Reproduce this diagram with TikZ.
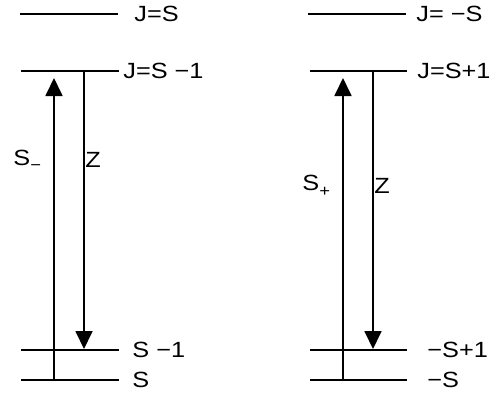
\documentclass[tikz,border=0pt]{standalone}
\usepackage{fontspec}
\setmainfont{Liberation Sans}[FakeStretch=1.15]
\usetikzlibrary{arrows.meta}

\tikzset{
  level/.style={line width=0.9pt},
  trans/.style={line width=0.9pt, -{Triangle[width=8.5pt,length=9pt]}},
  lbl/.style={anchor=west, inner sep=0pt, font=\fontsize{11}{13}\selectfont},
}

\begin{document}
\begin{tikzpicture}[x=0.5pt,y=-0.5pt]
        \useasboundingbox (0,0) rectangle (499,398);

        % --- 1. Left ladder: levels ---
        \coordinate (la1) at (20,14);   \coordinate (la2) at (118,14);
        \coordinate (lb1) at (21,71);   \coordinate (lb2) at (119,71);
        \coordinate (lc1) at (21,350);  \coordinate (lc2) at (119,350);
        \coordinate (ld1) at (21,380);  \coordinate (ld2) at (119,380);
        \draw[level] (la1) -- (la2);
        \draw[level] (lb1) -- (lb2);
        \draw[level] (lc1) -- (lc2);
        \draw[level] (ld1) -- (ld2);
        \node[lbl] (lJS)  at (134,14)  {J=S};
        \node[lbl] (lJS1) at (123,71)  {J=S −1};
        \node[lbl] (lS1)  at (132,350) {S −1};
        \node[lbl] (lS)   at (132,380) {S};

        % --- 2. Left ladder: transitions ---
        \coordinate (lup0) at (54,380);  \coordinate (lup1) at (54,78);
        \coordinate (ldn0) at (84,71);   \coordinate (ldn1) at (84,349);
        \draw[trans] (lup0) -- (lup1);
        \draw[trans] (ldn0) -- (ldn1);
        \node[lbl] (lsm) at (13,160) {S\raisebox{-0.45ex}{\fontsize{8}{9}\selectfont −}};
        \node[lbl] (lz)  at (85,160) {Z};

        % --- 3. Right ladder: levels ---
        \coordinate (ra1) at (308,14);  \coordinate (ra2) at (406,14);
        \coordinate (rb1) at (310,71);  \coordinate (rb2) at (407,71);
        \coordinate (rc1) at (310,350); \coordinate (rc2) at (407,350);
        \coordinate (rd1) at (310,380); \coordinate (rd2) at (407,380);
        \draw[level] (ra1) -- (ra2);
        \draw[level] (rb1) -- (rb2);
        \draw[level] (rc1) -- (rc2);
        \draw[level] (rd1) -- (rd2);
        \node[lbl] (rJS)  at (416,14)  {J= −S};
        \node[lbl] (rJS1) at (417,71)  {J=S+1};
        \node[lbl] (rS1)  at (427,350) {−S+1};
        \node[lbl] (rS)   at (427,380) {−S};

        % --- 4. Right ladder: transitions ---
        \coordinate (rup0) at (343,380); \coordinate (rup1) at (343,78);
        \coordinate (rdn0) at (373,71);  \coordinate (rdn1) at (373,349);
        \draw[trans] (rup0) -- (rup1);
        \draw[trans] (rdn0) -- (rdn1);
        \node[lbl] (rsp) at (302,186) {S\raisebox{-0.5ex}{\fontsize{8}{9}\selectfont +}};
        \node[lbl] (rz)  at (374,186) {Z};

    \end{tikzpicture}
\end{document}
